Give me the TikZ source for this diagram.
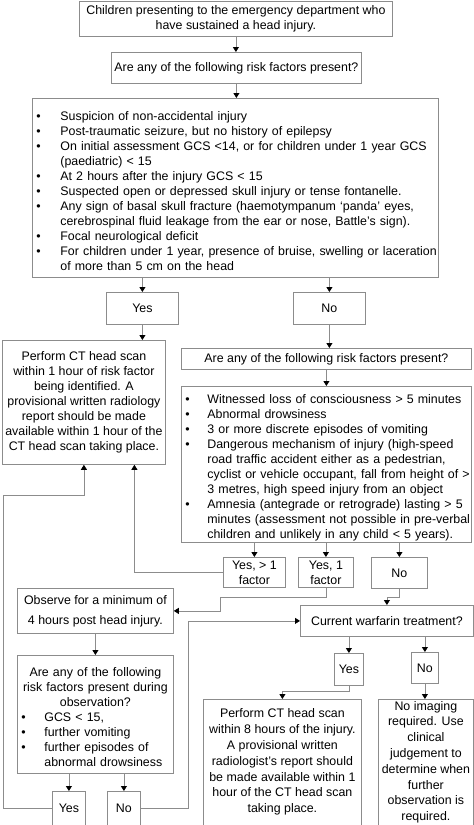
\documentclass[tikz,border=0pt]{standalone}
\usepackage{fontspec}
\setmainfont{Liberation Sans}
\usetikzlibrary{arrows.meta}

% one line of a bullet list, and a hanging continuation line
\newcommand{\bl}[2][24pt]{\par\noindent\hbox{\hbox to #1{\textbullet\hfil}#2}}
\newcommand{\cl}[2][24pt]{\par\noindent\hbox{\kern#1\relax#2}}
\newcommand{\ctr}[1]{\par\noindent\hbox to\hsize{\hss#1\hss}}

\begin{document}
\begin{tikzpicture}[x=1pt,y=-1pt,>={Triangle[length=5pt,width=6pt,color=black]},
  font=\fontsize{12.4}{15}\selectfont,
  box/.style={draw=black!45,line width=0.8pt,anchor=north west,inner sep=1pt,align=center},
  list/.style={box,align=left,inner xsep=4pt},
  wh/.style 2 args={minimum width=#1pt,minimum height=#2pt},
  link/.style={draw=black!45,line width=0.8pt,->}]
\useasboundingbox (0,0) rectangle (474,825);
\node[box,wh={313}{35.5}] (start) at (79,0.5) {Children presenting to the emergency department who\\ have sustained a head injury.};
\node[box,wh={250}{31}] (q1) at (111,52) {Are any of the following risk factors present?};
\node[list,wh={406}{179},text width=398pt] (risk1) at (32,98) {%
\bl{Suspicion of non-accidental injury}
\bl{Post-traumatic seizure, but no history of epilepsy}
\bl{On initial assessment GCS <14, or for children under 1 year GCS}
\cl{(paediatric) < 15}
\bl{At 2 hours after the injury GCS < 15}
\bl{Suspected open or depressed skull injury or tense fontanelle.}
\bl{Any sign of basal skull fracture (haemotympanum `panda' eyes,}
\cl{cerebrospinal fluid leakage from the ear or nose, Battle's sign).}
\bl{Focal neurological deficit}
\bl{For children under 1 year, presence of bruise, swelling or laceration}
\cl{of more than 5 cm on the head}};
\node[box,wh={72}{32}] (yes1) at (106,292) {Yes};
\node[box,wh={72}{32}] (no1) at (293,292) {No};
\node[box,wh={163}{124}] (ct1) at (2,340) {Perform CT head scan\\ within 1 hour of risk factor\\ being identified. A\\ provisional written radiology\\ report should be made\\ available within 1 hour of the\\ CT head scan taking place.};
\node[box,wh={290}{21}] (q2) at (181,348) {Are any of the following risk factors present?};
\node[list,wh={290}{156},text width=282pt] (risk2) at (181,386) {%
\bl[22pt]{Witnessed loss of consciousness > 5 minutes}
\bl[22pt]{Abnormal drowsiness}
\bl[22pt]{3 or more discrete episodes of vomiting}
\bl[22pt]{Dangerous mechanism of injury (high-speed}
\cl[22pt]{road traffic accident either as a pedestrian,}
\cl[22pt]{cyclist or vehicle occupant, fall from height of >}
\cl[22pt]{3 metres, high speed injury from an object}
\bl[22pt]{Amnesia (antegrade or retrograde) lasting > 5}
\cl[22pt]{minutes (assessment not possible in pre-verbal}
\cl[22pt]{children and unlikely in any child < 5 years).}};
\node[box,wh={62}{30}] (many) at (223,557) {Yes, > 1\\ factor};
\node[box,wh={55}{30}] (one) at (298,557) {Yes, 1\\ factor};
\node[box,wh={56}{31}] (no2) at (371,557) {No};
\node[box,wh={156}{45}] (observe) at (17,588) {Observe for a minimum of\\[5pt] 4 hours post head injury.};
\node[box,wh={173}{31}] (warf) at (300,605) {Current warfarin treatment?};
\node[list,wh={156}{118},text width=148pt] (obsq) at (17,655) {%
\ctr{Are any of the following}
\ctr{risk factors present during}
\ctr{observation?}
\bl[23pt]{GCS < 15,}
\bl[23pt]{further vomiting}
\bl[23pt]{further episodes of}
\cl[23pt]{abnormal drowsiness}};
\node[box,wh={33}{34}] (yes3) at (52,791) {Yes};
\node[box,wh={33}{34}] (no3) at (107,791) {No};
\node[box,wh={29}{32}] (yes4) at (334,653) {Yes};
\node[box,wh={27}{31}] (no4) at (411,652) {No};
\node[box,wh={158}{125.5},font=\fontsize{12.4}{15.8}\selectfont] (ct2) at (203,699) {Perform CT head scan\\ within 8 hours of the injury.\\ A provisional written\\ radiologist's report should\\ be made available within 1\\ hour of the CT head scan\\ taking place.};
\node[box,wh={95}{125.5},font=\fontsize{12.4}{15.8}\selectfont] (noimg) at (378,699) {No imaging\\ required. Use\\ clinical\\ judgement to\\ determine when\\ further\\ observation is\\ required.};
\coordinate (loop) at (3,495);
% connectors
\draw[link] (start.south) -- (start.south |- q1.north);
\draw[link] (q1.south) -- (q1.south |- risk1.north);
\draw[link] (yes1.north |- risk1.south) -- (yes1.north);
\draw[link] (no1.north |- risk1.south) -- (no1.north);
\draw[link] (yes1.south) -- (yes1.south |- ct1.north);
\draw[link] (no1.south) -- (no1.south |- q2.north);
\draw[link] (q2.south) -- (q2.south |- risk2.north);
\draw[link] (many.north |- risk2.south) -- (many.north);
\draw[link] (one.north |- risk2.south) -- (one.north);
\draw[link] (no2.north |- risk2.south) -- (no2.north);
\draw[link] (many.west) -| ([xshift=50.5pt]ct1.south);
\draw[link] (yes3.west) -| (loop) -| (ct1.south);
\draw[link] (one.south) |- (220,597) |- (observe.east);
\draw[link] (no2.south) -- ++(0,9) -| (warf.north);
\draw[link] (no3.east) -| ([xshift=-112pt]warf.west) -- (warf.west);
\draw[link] (observe.south) -- (observe.south |- obsq.north);
\draw[link] (yes3.north |- obsq.south) -- (yes3.north);
\draw[link] (no3.north |- obsq.south) -- (no3.north);
\draw[link] (yes4.north |- warf.south) -- (yes4.north);
\draw[link] (no4.north |- warf.south) -- (no4.north);
\draw[link] (yes4.south) -- ++(0,6) -| (ct2.north);
\draw[link] (no4.south) -- (no4.south |- noimg.north);
\end{tikzpicture}
\end{document}
